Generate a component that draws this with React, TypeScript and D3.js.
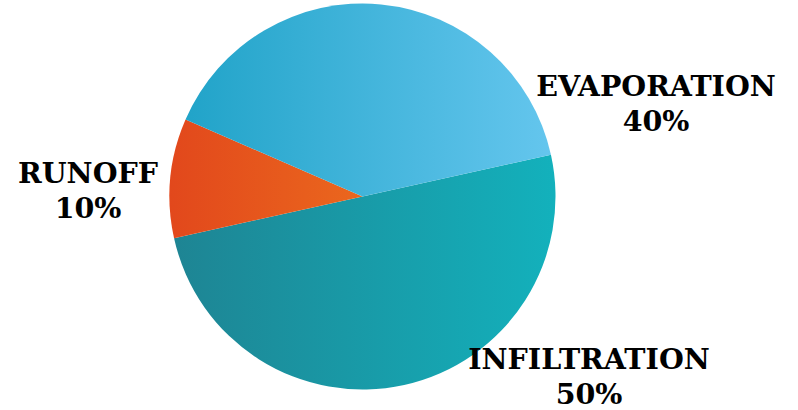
import React from "react";
import * as d3 from "d3";

const labels = ["INFILTRATION", "RUNOFF", "EVAPORATION"];
const values = [50, 10, 40];
const pctLabels = ["50%", "10%", "40%"];
const gradStops: [string, string][] = [
  ["#1e8493", "#13b1bc"],
  ["#e2481c", "#f3861f"],
  ["#1ea2c7", "#65c6ee"],
];
const labelPos: [number, number][] = [
  [589, 369],
  [88, 183],
  [656, 96],
];

export default function App() {
  const W = 798, H = 410;
  const cx = 362.5, cy = 196.5, r = 193;
  const pie = d3.pie<number>().sort(null).startAngle(1.353).endAngle(1.353 + 2 * Math.PI);
  const arcs = pie(values);
  const arc = d3.arc<d3.PieArcDatum<number>>().innerRadius(0).outerRadius(r);
  return (
    <svg width={W} height={H} style={{ position: "absolute", left: 0, top: 0, background: "#fff" }}>
      <defs>
        {gradStops.map((g, i) => (
          <linearGradient key={i} id={`g${i}`} gradientUnits="userSpaceOnUse" x1={-r} x2={r} y1={0} y2={0}>
            <stop offset="0%" stopColor={g[0]} />
            <stop offset="100%" stopColor={g[1]} />
          </linearGradient>
        ))}
      </defs>
      <g transform={`translate(${cx},${cy})`}>
        {arcs.map((a, i) => (
          <path key={i} d={arc(a) || ""} fill={`url(#g${i})`} />
        ))}
      </g>
      {labels.map((l, i) => (
        <text key={i} x={labelPos[i][0]} y={labelPos[i][1]} textAnchor="middle"
          fontFamily="'DejaVu Serif', serif" fontWeight="bold" fontSize={28.5} fill="#000">
          {l}
          <tspan x={labelPos[i][0]} dy={35}>{pctLabels[i]}</tspan>
        </text>
      ))}
    </svg>
  );
}
